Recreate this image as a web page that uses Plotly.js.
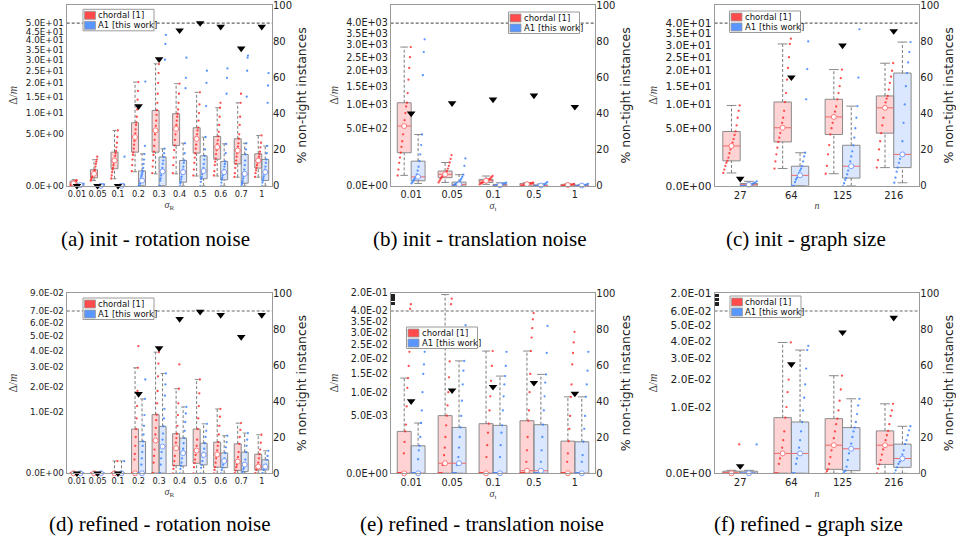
<!DOCTYPE html>
<html><head><meta charset="utf-8">
<script src="https://cdn.plot.ly/plotly-3.0.1.min.js"></script>
<style>html,body{margin:0;padding:0;background:#fff;}#chart{width:956px;height:544px;}</style>
</head><body><div id="chart"></div>
<script>
// ---------------- DATA ----------------
// (a) init - rotation noise
const catsA = ["0.01","0.05","0.1","0.2","0.3","0.4","0.5","0.6","0.7","1"];
const ticksA = [0,5,10,15,20,25,30,35,40,45,50];
const tickTextA = ["0.0E+00","5.0E+00","1.0E+01","1.5E+01","2.0E+01","2.5E+01","3.0E+01","3.5E+01","4.0E+01","4.5E+01","5.0E+01"];
const redA_q1 = [0.002,0.121,0.546,2.14,2.14,3.07,2.02,1.34,0.915,0.59];
const redA_med = [0.01,0.272,1.21,4.48,5.8,6.14,4.17,2.83,2.36,1.21];
const redA_q3 = [0.04,0.484,2.14,7.5,10.7,9.8,6.36,4.6,4.17,1.93];
const redA_lo = [0,0.054,0.093,0.37,0.27,0.27,0.18,0.18,0.14,0.14];
const redA_hi = [0.07,1.28,5.79,20.3,28.1,19.7,16.5,11.5,13.0,4.79];
const blueA_q1 = [0,0,0,0,0,0.025,0.093,0.068,0.013,0.054];
const blueA_med = [0.001,0,0,0.05,0.39,0.35,0.41,0.35,0.27,0.35];
const blueA_q3 = [0.005,0.002,0.003,0.42,1.57,1.21,1.7,1.12,1.86,1.31];
const blueA_lo = [0,0,0,0,0,0,0,0,0,0];
const blueA_hi = [0.008,0.004,0.005,1.93,2.59,3.44,4.47,3.33,3.44,2.97];
const pctA = [0,0,0,44,70,86,90,88,76,88];
const ptsRedA = [
 [0,0.001,0.002,0.004,0.006,0.01,0.015,0.02,0.03,0.04,0.05,0.06],
 [0.05,0.08,0.12,0.15,0.2,0.25,0.3,0.35,0.45,0.5,0.7,0.9,1.1,1.3,1.6],
 [0.1,0.2,0.35,0.5,0.6,0.8,1.0,1.2,1.4,1.7,2.0,2.3,2.8,3.5,4.5,5.8],
 [0.4,0.8,1.3,1.8,2.1,2.6,3.2,3.8,4.5,5.2,6.0,7.0,7.6,9,11,14,17,20.3],
 [0.3,0.7,1.2,1.8,2.2,3,4,5,5.8,6.8,8,9.5,10.8,13,16,20,24,28],
 [0.3,0.8,1.5,2.4,3.1,4,5,6.1,7,8,9,9.8,11,13,16,19.7],
 [0.2,0.5,1,1.5,2,2.6,3.2,4.2,5,5.8,6.4,8,10,12.5,16.5],
 [0.2,0.4,0.8,1.1,1.4,1.9,2.4,2.8,3.3,3.9,4.6,5.5,7,9,11.5,13],
 [0.15,0.3,0.6,0.9,1.2,1.6,2,2.4,2.9,3.4,4.2,5,7,9,13,16],
 [0.15,0.3,0.45,0.6,0.8,1,1.2,1.4,1.6,1.9,2.2,2.8,3.5,4.8]
];
const ptsBlueA = [
 [0,0,0,0.001,0.002,0.003,0.005,0.008],
 [0,0,0,0,0.001,0.002,0.004],
 [0,0,0,0.001,0.002,0.005,1.6],
 [0,0,0,0.01,0.05,0.1,0.18,0.25,0.33,0.41,0.6,0.9,1.3,1.9,3,20.5],
 [0,0,0.05,0.1,0.2,0.3,0.39,0.6,0.9,1.2,1.55,2,2.6,30,38,43],
 [0,0.01,0.03,0.08,0.15,0.25,0.35,0.5,0.7,1.0,1.21,2,3.4,18,22,31],
 [0,0.03,0.09,0.15,0.25,0.33,0.41,0.6,0.9,1.3,1.7,2.5,4.5,12,20,25],
 [0,0.02,0.07,0.12,0.2,0.28,0.35,0.5,0.7,0.9,1.12,2,3.3,16,22,26],
 [0,0.005,0.013,0.04,0.1,0.18,0.27,0.5,0.8,1.2,1.86,2.5,3.4,15,25,31,32],
 [0,0.02,0.05,0.1,0.17,0.25,0.35,0.5,0.7,1,1.31,2,3,13,19,24]
];

// (b) init - translation noise
const catsB = ["0.01","0.05","0.1","0.5","1"];
const ticksB = [0,500,1000,1500,2000,2500,3000,3500,4000];
const tickTextB = ["0.0E+00","5.0E+02","1.0E+03","1.5E+03","2.0E+03","2.5E+03","3.0E+03","3.5E+03","4.0E+03"];
const redB_q1 = [165,9.9,1.7,0,0];
const redB_med = [540,19.9,3.9,0.4,0.1];
const redB_q3 = [1042,33,6.2,0.84,0.3];
const redB_lo = [16.5,1.7,0.3,0,0];
const redB_hi = [2908,82,14.5,1.5,0.5];
const blueB_q1 = [3.9,0,0,0,0];
const blueB_med = [12,0.3,0.05,0.01,0.01];
const blueB_q3 = [91.8,2.1,0.3,0.1,0.05];
const blueB_lo = [0.84,0,0,0,0];
const blueB_hi = [398,18.7,1.4,0.5,0.2];
const pctB = [40,45.7,47.8,50,43.7];
const ptsRedB = [
 [16,40,80,120,165,230,300,400,540,650,800,950,1042,1300,1700,2100,2500,2908],
 [1.7,4,7,9.9,13,17,19.9,23,28,33,45,60,82,110,143],
 [0.3,0.8,1.2,1.7,2.5,3.2,3.9,4.5,5.5,6.2,8,11,14.5],
 [0,0,0.05,0.1,0.2,0.3,0.5,0.84,1.2,1.6],
 [0,0,0.01,0.03,0.05,0.1,0.2,0.3,0.5]
];
const ptsBlueB = [
 [0.84,2,3.9,6,9,12,20,35,55,91.8,150,250,398,1850,2700,3240],
 [0,0,0.2,0.5,1,1.5,2.1,4,7,12,18.7,60,113],
 [0,0,0.02,0.05,0.1,0.2,0.3,0.6,1,1.4],
 [0,0,0,0.01,0.03,0.06,0.1,0.3,0.8,2],
 [0,0,0,0.01,0.02,0.05,0.1,0.2,0.6]
];

// (c) init - graph size
const catsC = ["27","64","125","216"];
const ticksC = [0,5,10,15,20,25,30,35,40];
const tickTextC = ["0.0E+00","5.0E+00","1.0E+01","1.5E+01","2.0E+01","2.5E+01","3.0E+01","3.5E+01","4.0E+01"];
const redC_q1 = [0.94,2.91,3.98,4.19];
const redC_med = [2.40,5.09,7.17,9.19];
const redC_q3 = [4.46,10.6,11.3,12.2];
const redC_lo = [0.25,0.45,0.22,0.5];
const redC_hi = [9.75,30.4,20.4,22.7];
const blueC_q1 = [0,0,0.09,0.5];
const blueC_med = [0.002,0.165,0.58,1.49];
const blueC_q3 = [0.008,0.58,2.48,19.2];
const blueC_lo = [0,0,0,0.014];
const blueC_hi = [0.03,1.65,9.59,31.2];
const pctC = [3.9,60,77.6,85.6];
const ptsRedC = [
 [0.25,0.4,0.6,0.8,0.94,1.2,1.6,2,2.4,2.8,3.3,3.9,4.46,5.5,7,8.5,9.75],
 [0.45,0.9,1.5,2.2,2.91,3.5,4.2,5.09,6,7,8.5,10.6,13,17,21,25,30.4,32.7],
 [0.22,0.6,1.5,2.5,3.98,5,6,7.17,8.3,9.5,11.3,13,15,17.5,20.4],
 [0.5,1,2,3,4.19,5.5,7,9.19,10.5,11.5,12.2,14,16,18,20,22.7]
];
const ptsBlueC = [
 [0,0,0,0,0.001,0.002,0.004,0.008,0.015,0.03],
 [0,0,0,0.02,0.06,0.1,0.165,0.25,0.35,0.45,0.58,0.9,1.3,1.65,11.3,20.6,31.5],
 [0,0.01,0.05,0.09,0.2,0.35,0.58,0.9,1.3,1.8,2.48,3.5,5,7,9.59,17.7,37],
 [0.014,0.1,0.3,0.5,0.8,1.1,1.49,3,6,10,15,19.2,23,27,31.2]
];

// (d) refined - rotation noise
const catsD = ["0.01","0.05","0.1","0.2","0.3","0.4","0.5","0.6","0.7","1"];
const ticksD = [0,0.01,0.02,0.03,0.04,0.05,0.06,0.07,0.09];
const tickTextD = ["0.0E+00","1.0E-02","2.0E-02","3.0E-02","4.0E-02","5.0E-02","6.0E-02","7.0E-02","9.0E-02"];
const redD_q1 = [0,0,0,0,0,0.000158,0.00027,0.0001,0.00002,0.00003];
const redD_med = [0,0,0,0,0.00287,0.00168,0.00138,0.00094,0.00037,0.00012];
const redD_q3 = [0,0,0,0.0052,0.00915,0.00416,0.0052,0.00258,0.00231,0.00097];
const redD_lo = [0,0,0,0,0,0,0,0,0,0];
const redD_hi = [0,0,0.0004,0.0296,0.039,0.019,0.0234,0.011,0.0067,0.00395];
const blueD_q1 = [0,0,0,0,0,0.000145,0.00019,0.000086,0.0000075,0.00003];
const blueD_med = [0,0,0,0,0.0019,0.00108,0.0009,0.0004,0.0002,0.00012];
const blueD_q3 = [0,0,0,0.0027,0.00586,0.0033,0.0024,0.0011,0.00119,0.00048];
const blueD_lo = [0,0,0,0,0,0,0,0,0,0];
const blueD_hi = [0,0,0.0004,0.0147,0.0265,0.0117,0.0065,0.00375,0.0043,0.00134];
const pctD = [0,0,0,44,69.4,85.6,89.6,87.8,75.6,87.8];
const ptsRedD = [
 [0,0,0,0,0,0],
 [0,0,0,0,0,0],
 [0,0,0,0,0,0.0004],
 [0,0,0,0,0,0,0.0005,0.001,0.002,0.0035,0.0052,0.008,0.012,0.018,0.0296,0.043],
 [0,0,0,0.0003,0.0008,0.0015,0.00287,0.004,0.0055,0.0075,0.00915,0.013,0.018,0.025,0.032,0.039],
 [0,0.00005,0.000158,0.0004,0.0008,0.00168,0.0025,0.0033,0.00416,0.006,0.009,0.013,0.019,0.0315],
 [0,0.0001,0.00027,0.0005,0.0009,0.00138,0.002,0.003,0.0052,0.008,0.012,0.017,0.0234],
 [0,0.00003,0.0001,0.0003,0.0006,0.00094,0.0014,0.002,0.00258,0.004,0.006,0.0085,0.011],
 [0,0,0.00002,0.0001,0.0002,0.00037,0.0007,0.0012,0.00231,0.0035,0.005,0.0067],
 [0,0,0.00003,0.00006,0.00012,0.0003,0.0006,0.00097,0.0015,0.0025,0.00395]
];
const ptsBlueD = [
 [0,0,0,0,0],
 [0,0,0,0,0],
 [0,0,0,0,0.0004],
 [0,0,0,0,0,0,0.0002,0.0006,0.0012,0.002,0.0027,0.004,0.006,0.009,0.0147,0.0234],
 [0,0,0,0.0002,0.0006,0.0012,0.0019,0.003,0.0042,0.00586,0.008,0.011,0.016,0.021,0.0265],
 [0,0.00005,0.000145,0.0003,0.0006,0.00108,0.0016,0.0024,0.0033,0.0048,0.007,0.0095,0.0117],
 [0,0.00008,0.00019,0.0004,0.0007,0.0011,0.0016,0.0024,0.0035,0.0048,0.0065],
 [0,0.00003,0.000086,0.0002,0.0004,0.0006,0.0011,0.0018,0.0026,0.00375],
 [0,0,0.0000075,0.00005,0.0001,0.0002,0.0005,0.00119,0.002,0.003,0.0043],
 [0,0,0.00003,0.00006,0.0001,0.0002,0.00048,0.0008,0.00134]
];

// (e) refined - translation noise
const catsE = ["0.01","0.05","0.1","0.5","1"];
const ticksE = [0,0.005,0.01,0.015,0.02,0.025,0.03,0.035,0.04,0.2];
const tickTextE = ["0.0E+00","5.0E-03","1.0E-02","1.5E-02","2.0E-02","2.5E-02","3.0E-02","3.5E-02","4.0E-02","2.0E-01"];
const minorE = [0.1,0.11,0.12,0.13,0.14,0.15,0.16,0.17,0.18,0.19];
const redE_q1 = [0,0,0,0,0];
const redE_med = [0,0.000154,0,0.00001,0];
const redE_q3 = [0.00267,0.00505,0.00374,0.0042,0.00157];
const redE_lo = [0,0,0,0,0];
const redE_hi = [0.01377,0.186,0.0227,0.0227,0.00888];
const blueE_q1 = [0,0,0,0,0];
const blueE_med = [0,0.000154,0,0.00001,0];
const blueE_q3 = [0.00115,0.0032,0.00349,0.00359,0.00151];
const blueE_lo = [0,0,0,0,0];
const blueE_hi = [0.00384,0.0192,0.01436,0.01486,0.00888];
const pctE = [40,46,48,50.2,44.2];
const ptsRedE = [
 [0,0,0,0,0,0,0,0,0,0.0006,0.0015,0.00267,0.0036,0.0068,0.0111,0.01377,0.0175,0.0224,0.06,0.1],
 [0,0,0,0,0,0,0.0001,0.000154,0.0005,0.001,0.002,0.0035,0.00505,0.007,0.01,0.014,0.019,0.024,0.1,0.15],
 [0,0,0,0,0,0,0,0,0,0.0004,0.0012,0.0025,0.00374,0.006,0.009,0.013,0.0175,0.0227],
 [0,0,0,0,0,0,0,0,0.00001,0.0002,0.0008,0.002,0.0042,0.006,0.01,0.015,0.0227,0.028,0.032,0.036,0.039],
 [0,0,0,0,0,0,0,0,0.0002,0.0006,0.00157,0.003,0.005,0.00888,0.012,0.018,0.022,0.026,0.0304]
];
const ptsBlueE = [
 [0,0,0,0,0,0,0,0,0,0.0003,0.0008,0.00115,0.002,0.00384,0.006,0.01,0.015,0.018,0.0224],
 [0,0,0,0,0,0,0.0001,0.000154,0.0004,0.001,0.002,0.0032,0.005,0.008,0.012,0.016,0.0192,0.025,0.0333],
 [0,0,0,0,0,0,0,0,0,0.0004,0.0012,0.0025,0.00349,0.006,0.009,0.012,0.01436,0.0175,0.0224],
 [0,0,0,0,0,0,0,0,0,0.0002,0.0008,0.002,0.00359,0.006,0.009,0.0125,0.01486,0.022,0.033],
 [0,0,0,0,0,0,0,0,0.0002,0.0005,0.00151,0.003,0.005,0.00888,0.012,0.016,0.0224]
];

// (f) refined - graph size
const catsF = ["27","64","125","216"];
const ticksF = [0,0.01,0.02,0.03,0.04,0.05,0.06,0.2];
const tickTextF = ["0.0E+00","1.0E-02","2.0E-02","3.0E-02","4.0E-02","5.0E-02","6.0E-02","2.0E-01"];
const minorF = [0.1,0.11,0.12,0.13,0.14,0.15,0.16,0.17,0.18,0.19];
const redF_q1 = [0,0,0.000036,0.00018];
const redF_med = [0,0.0009,0.0018,0.0018];
const redF_q3 = [0.00001,0.00705,0.0068,0.0041];
const redF_lo = [0,0,0,0];
const redF_hi = [0.00002,0.039,0.0217,0.011];
const blueF_q1 = [0,0,0.000016,0.000081];
const blueF_med = [0,0.0009,0.00137,0.0005];
const blueF_q3 = [0.00001,0.006,0.00476,0.00194];
const blueF_lo = [0,0,0,0];
const blueF_hi = [0.00002,0.0346,0.01265,0.00504];
const pctF = [4,60.5,78.2,86.3];
const ptsRedF = [
 [0,0,0,0,0,0,0,0,0.0019],
 [0,0,0,0,0.0002,0.0005,0.0009,0.0015,0.0025,0.004,0.00705,0.01,0.015,0.02,0.027,0.039],
 [0,0.00001,0.000036,0.0002,0.0006,0.0012,0.0018,0.0028,0.004,0.0055,0.0068,0.009,0.012,0.016,0.0217],
 [0,0.00005,0.00018,0.0004,0.0008,0.0013,0.0018,0.0025,0.0033,0.0041,0.0055,0.0075,0.009,0.011]
];
const ptsBlueF = [
 [0,0,0,0,0,0,0,0,0.0019],
 [0,0,0,0,0.0002,0.0005,0.0009,0.0015,0.0025,0.004,0.006,0.009,0.013,0.018,0.025,0.0346,0.037],
 [0,0.000005,0.000016,0.0001,0.0004,0.0009,0.00137,0.002,0.003,0.004,0.00476,0.006,0.008,0.0105,0.01265],
 [0,0.00002,0.000081,0.0002,0.0003,0.0005,0.0008,0.0012,0.00194,0.0025,0.0033,0.0042,0.00504]
];

const seriesNames = ["chordal [1]", "A1 [this work]"];
const captions = ["(a) init - rotation noise","(b) init - translation noise","(c) init - graph size",
                  "(d) refined - rotation noise","(e) refined - translation noise","(f) refined - graph size"];
const xTitles = ["<i>σ</i><sub>R</sub>","<i>σ</i><sub>t</sub>","<i>n</i>","<i>σ</i><sub>R</sub>","<i>σ</i><sub>t</sub>","<i>n</i>"];
const pctTicks = [0,20,40,60,80,100];
const tightLine = 90;

// ---------------- BUILD ----------------
const W = 956, H = 544;
const panels = [
 {cats:catsA, ticks:ticksA, tt:tickTextA, vmax:50, vtop:null, minor:null,
  red:[redA_q1,redA_med,redA_q3,redA_lo,redA_hi], blue:[blueA_q1,blueA_med,blueA_q3,blueA_lo,blueA_hi],
  pr:ptsRedA, pb:ptsBlueA, pct:pctA},
 {cats:catsB, ticks:ticksB, tt:tickTextB, vmax:4000, vtop:null, minor:null,
  red:[redB_q1,redB_med,redB_q3,redB_lo,redB_hi], blue:[blueB_q1,blueB_med,blueB_q3,blueB_lo,blueB_hi],
  pr:ptsRedB, pb:ptsBlueB, pct:pctB},
 {cats:catsC, ticks:ticksC, tt:tickTextC, vmax:40, vtop:null, minor:null,
  red:[redC_q1,redC_med,redC_q3,redC_lo,redC_hi], blue:[blueC_q1,blueC_med,blueC_q3,blueC_lo,blueC_hi],
  pr:ptsRedC, pb:ptsBlueC, pct:pctC},
 {cats:catsD, ticks:ticksD, tt:tickTextD, vmax:0.07, vtop:0.09, minor:null,
  red:[redD_q1,redD_med,redD_q3,redD_lo,redD_hi], blue:[blueD_q1,blueD_med,blueD_q3,blueD_lo,blueD_hi],
  pr:ptsRedD, pb:ptsBlueD, pct:pctD},
 {cats:catsE, ticks:ticksE, tt:tickTextE, vmax:0.04, vtop:0.2, minor:minorE,
  red:[redE_q1,redE_med,redE_q3,redE_lo,redE_hi], blue:[blueE_q1,blueE_med,blueE_q3,blueE_lo,blueE_hi],
  pr:ptsRedE, pb:ptsBlueE, pct:pctE},
 {cats:catsF, ticks:ticksF, tt:tickTextF, vmax:0.06, vtop:0.2, minor:minorF,
  red:[redF_q1,redF_med,redF_q3,redF_lo,redF_hi], blue:[blueF_q1,blueF_med,blueF_q3,blueF_lo,blueF_hi],
  pr:ptsRedF, pb:ptsBlueF, pct:pctF}
];
// pixel geometry of plot areas [left, right, top, bottom]
const geo = [
 [66.7,272,5,185.8],[390.7,595.3,5,185.8],[714.6,919.3,5,185.8],
 [66.7,272,293,473.3],[390.7,595.3,293,473.3],[714.6,919.3,293,473.3]
];
const leftTickSize = [8.8,9.6,10.6,8.8,9.6,10.6];
const xTickSize = [8.2,9.6,10,8.2,9.6,10];
const legendPos = [[83,9.3],[508.5,12],[729.5,11],[83,298],[406.5,327],[730,296]];
const captionPos = [[155,238.5],[479,238.5],[806,238.5],[160,524],[482,524],[808,524]];

const BW = 0.34;
const COL = {
  redFill:'rgba(255,110,110,0.30)', blueFill:'rgba(110,160,255,0.25)',
  redPt:'rgba(255,45,45,0.85)', bluePt:'rgba(60,130,255,0.85)',
  redSw:'rgb(255,75,75)', blueSw:'rgb(90,150,255)',
  frame:'#9a9a9a', whisk:'#7a7a7a', med:'rgb(238,105,105)'
};
const traces = [], shapes = [], annotations = [];
const layout = {width:W, height:H, margin:{l:0,r:0,t:0,b:0}, paper_bgcolor:'#fff', plot_bgcolor:'#fff',
  showlegend:false, barmode:'overlay', font:{family:'DejaVu Sans', color:'#222'}};
const px = x => x / W, py = y => 1 - y / H;

panels.forEach((P, i) => {
  const s = i === 0 ? '' : String(i + 1);
  const xa = 'x' + s, ya = 'y' + s, yr = 'y' + (i + 7);
  const f = v => (P.vtop !== null && v > P.vmax) ? 90 + 10 * (v - P.vmax) / (P.vtop - P.vmax)
                                                 : 90 * Math.sqrt(Math.max(v, 0) / P.vmax);
  const n = P.cats.length;
  const g = geo[i];
  layout['xaxis' + s] = {domain:[px(g[0]), px(g[1])], anchor:ya, range:[-0.5, n - 0.5],
    tickmode:'array', tickvals:P.cats.map((_, k) => k), ticktext:P.cats, ticks:'', tickangle:0,
    showline:true, mirror:true, linecolor:COL.frame, linewidth:1, showgrid:false, zeroline:false,
    tickfont:{size:xTickSize[i], family:'DejaVu Sans', color:'#222'},
    title:{text:xTitles[i], font:{family:'Liberation Serif', size:10, color:'#444'}, standoff:2}};
  const yax = {domain:[py(g[3]), py(g[2])], anchor:xa, range:[0, 100],
    tickmode:'array', tickvals:P.ticks.map(f), ticktext:P.tt, ticks:'', ticklabeloverflow:'allow',
    showline:true, mirror:true, linecolor:COL.frame, linewidth:1, showgrid:false, zeroline:false,
    tickfont:{size:leftTickSize[i], family:'DejaVu Sans', color:'#222'},
    title:{text:'Δ/<i>m</i>', font:{family:'Liberation Serif', size:11.5, color:'#444'}, standoff:5}};
  if (P.minor) yax.minor = {tickmode:'array', tickvals:P.minor.map(f), ticks:'inside', ticklen:4, tickcolor:'#222', showgrid:false};
  layout['yaxis' + s] = yax;
  layout['yaxis' + (i + 7)] = {overlaying:ya, anchor:xa, side:'right', range:[0, 100],
    tickmode:'array', tickvals:pctTicks, ticks:'', showgrid:false, zeroline:false, showline:false,
    ticklabeloverflow:'allow',
    tickfont:{size:10, family:'DejaVu Sans', color:'#222'},
    title:{text:'% non-tight instances', font:{size:12.5, family:'DejaVu Sans', color:'#222'}, standoff:6}};

  [['red', P.red, P.pr, -1], ['blue', P.blue, P.pb, 1]].forEach(([nm, st, pts, side]) => {
    const [q1, med, q3, lo, hi] = st;
    const cx = P.cats.map((_, k) => k + side * BW / 2);
    // boxes
    traces.push({type:'bar', x:cx, base:q1.map(f), y:q3.map((v, k) => f(v) - f(q1[k])), width:BW,
      marker:{color: nm === 'red' ? COL.redFill : COL.blueFill, line:{color:'#8a8a8a', width:1}},
      xaxis:xa, yaxis:ya, hoverinfo:'skip', name:seriesNames[nm === 'red' ? 0 : 1]});
    // whiskers
    const wx = [], wy = [], capx = [], capy = [], mx = [], my = [];
    cx.forEach((c, k) => {
      wx.push(c, c, null, c, c, null);
      wy.push(f(lo[k]), f(q1[k]), null, f(q3[k]), f(hi[k]), null);
      capx.push(c - BW * 0.28, c + BW * 0.28, null, c - BW * 0.28, c + BW * 0.28, null);
      capy.push(f(lo[k]), f(lo[k]), null, f(hi[k]), f(hi[k]), null);
      mx.push(c - BW / 2, c + BW / 2, null);
      my.push(f(med[k]), f(med[k]), null);
    });
    traces.push({type:'scatter', mode:'lines', x:wx, y:wy, line:{color:COL.whisk, width:1, dash:'3px,2px'},
      xaxis:xa, yaxis:ya, hoverinfo:'skip'});
    traces.push({type:'scatter', mode:'lines', x:capx, y:capy, line:{color:'#8a8a8a', width:1},
      xaxis:xa, yaxis:ya, hoverinfo:'skip'});
    traces.push({type:'scatter', mode:'lines', x:mx, y:my, line:{color:COL.med, width:1},
      xaxis:xa, yaxis:ya, hoverinfo:'skip'});
    // individual instances, ordered by rank across the box width
    const ptx = [], pty = [];
    pts.forEach((arr, k) => {
      const left = k + (side < 0 ? -BW : 0);
      arr.forEach((v, j) => { ptx.push(left + BW * (j + 0.5) / arr.length); pty.push(f(v)); });
    });
    traces.push({type:'scatter', mode:'markers', x:ptx, y:pty,
      marker:{size:2.3, color: nm === 'red' ? COL.redPt : COL.bluePt},
      xaxis:xa, yaxis:ya, hoverinfo:'skip'});
    // median markers
    traces.push({type:'scatter', mode:'markers', x:cx, y:med.map(f),
      marker:{symbol:'circle', size:5, color:'#fff',
              line:{color: nm === 'red' ? 'rgb(255,120,120)' : 'rgb(120,160,255)', width:1}},
      xaxis:xa, yaxis:ya, hoverinfo:'skip', cliponaxis:false});
  });
  // non-tight instances (%)
  traces.push({type:'scatter', mode:'markers', x:P.cats.map((_, k) => k), y:P.pct,
    marker:{symbol:'triangle-down', size:7.5, color:'#000'}, xaxis:xa, yaxis:yr, cliponaxis:false,
    name:'% non-tight'});
  // 90% reference line
  shapes.push({type:'line', xref:xa + ' domain', x0:0, x1:1, yref:yr, y0:tightLine, y1:tightLine,
    line:{color:'#666', width:1.1, dash:'3px,2px'}, layer:'below'});

  // legend box
  const [lx, ly] = legendPos[i];
  shapes.push({type:'rect', xref:'paper', yref:'paper', x0:px(lx), x1:px(lx + 71), y0:py(ly + 21.5), y1:py(ly),
    fillcolor:'#fff', line:{color:'#9a9a9a', width:1}, layer:'above'});
  [[COL.redSw, 0], [COL.blueSw, 1]].forEach(([c, r]) => {
    shapes.push({type:'rect', xref:'paper', yref:'paper', x0:px(lx + 1.5), x1:px(lx + 12.5),
      y0:py(ly + 2 + r * 10 + 8), y1:py(ly + 2 + r * 10), fillcolor:c, line:{color:'#999', width:0.8}, layer:'above'});
    annotations.push({xref:'paper', yref:'paper', x:px(lx + 13.2), y:py(ly + 6 + r * 10), xanchor:'left', yanchor:'middle',
      text:seriesNames[r], showarrow:false, font:{size:8.5, family:'DejaVu Sans', color:'#111'}});
  });
  annotations.push({xref:'paper', yref:'paper', x:px(captionPos[i][0]), y:py(captionPos[i][1]),
    xanchor:'center', yanchor:'middle', text:captions[i], showarrow:false,
    font:{size:21, family:'Liberation Serif', color:'#000'}});
});
layout.shapes = shapes;
layout.annotations = annotations;
Plotly.newPlot('chart', traces, layout, {staticPlot:true, displayModeBar:false});
</script></body></html>
